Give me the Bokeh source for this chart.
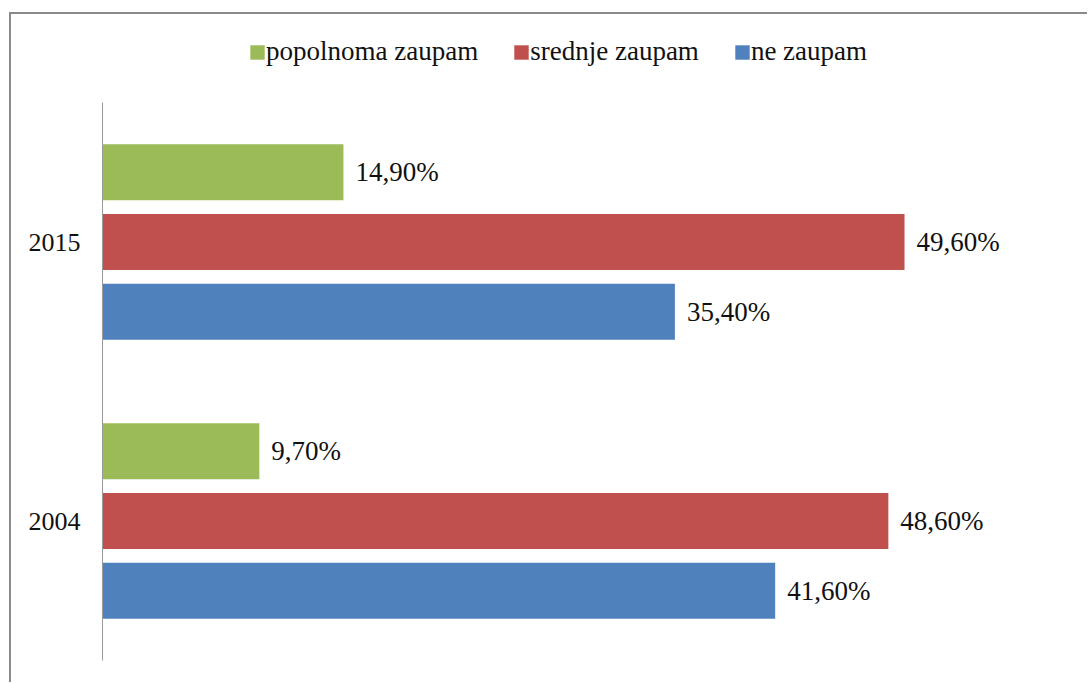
from bokeh.plotting import figure
from bokeh.models import ColumnDataSource, Range1d, Legend, LegendItem, FixedTicker
from bokeh.core.properties import value
from bokeh.embed import file_html
from bokeh.resources import INLINE

years = ["2004", "2015"]
series_names = ["popolnoma zaupam", "srednje zaupam", "ne zaupam"]
popolnoma = [9.7, 14.9]
srednje = [48.6, 49.6]
ne = [41.6, 35.4]
colors = ["#9BBB59", "#C0504D", "#4F81BD"]
offsets = [0.25, 0.0, -0.25]

FONT = "Liberation Serif"
ypos = [i + 0.5 for i in range(len(years))]

p = figure(width=1078, height=670, output_backend="svg", toolbar_location=None,
           y_range=Range1d(0, 646 / 279.0),
           x_range=Range1d(0, 977 / 16.17),
           min_border_left=91, min_border_top=0, min_border_bottom=24, min_border_right=10)
p.styles = {"border-top": "2px solid #8a8a8a", "border-left": "2px solid #8a8a8a",
            "margin-top": "12px", "margin-left": "9px"}
p.outline_line_color = None
p.grid.visible = False
p.xaxis.visible = False
p.background_fill_color = "white"
p.border_fill_color = "white"

ya = p.yaxis[0]
ya.ticker = FixedTicker(ticks=ypos, minor_ticks=[])
ya.major_label_overrides = {y: lab for y, lab in zip(ypos, years)}
ya.bounds = (0, len(years))
ya.axis_line_color = "#9a9a9a"
ya.major_tick_line_color = None
ya.minor_tick_line_color = None
ya.major_tick_out = 0
ya.major_tick_in = 0
ya.major_label_text_font = FONT
ya.major_label_text_font_size = "26px"
ya.major_label_text_color = "#111111"
ya.major_label_standoff = 22

items = []
for name, vals, col, off in zip(series_names, [popolnoma, srednje, ne], colors, offsets):
    src = ColumnDataSource(dict(y=[y + off for y in ypos], v=vals,
                                lab=[(f"{x:.2f}%").replace(".", ",") for x in vals]))
    r = p.hbar(y="y", right="v", left=0, height=0.2,
               source=src, fill_color=col, line_color=None)
    p.text(x="v", y="y", text="lab", source=src,
           x_offset=12, text_baseline="middle", text_align="left",
           text_font=value(FONT), text_font_size="27px", text_color="#111111")
    items.append(LegendItem(label=name, renderers=[r]))

legend = Legend(items=items, orientation="horizontal", location=(146, 593),
                glyph_width=18, glyph_height=18, label_standoff=0, spacing=34,
                padding=0, margin=0, border_line_color=None, background_fill_alpha=0,
                label_text_font=FONT, label_text_font_size="27px", label_text_color="#111111")
p.add_layout(legend, "center")

open("out.html", "w").write(file_html(p, INLINE))
